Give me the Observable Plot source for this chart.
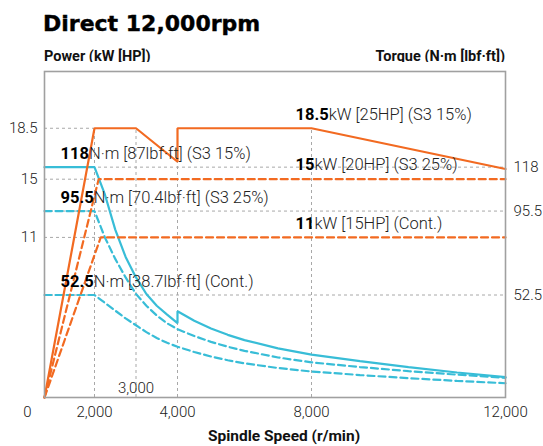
<!DOCTYPE html>
<html><head><meta charset="utf-8">
<script src="https://cdn.jsdelivr.net/npm/d3@7"></script>
<script src="https://cdn.jsdelivr.net/npm/@observablehq/plot@0.6"></script>
<style>
body{margin:0;background:#fff;}
#wrap{position:relative;width:543px;height:446px;font-family:Roboto,"Noto Sans",sans-serif;color:#111;overflow:hidden;}
.t{position:absolute;white-space:nowrap;line-height:1;}
#title{left:43px;top:13px;font-family:"DejaVu Sans",sans-serif;font-size:22px;font-weight:700;color:#000;-webkit-text-stroke:0.4px #000;}
#pl{left:44px;top:50px;font-size:14.5px;font-weight:700;}
#tl{right:38px;top:50px;font-size:14.5px;font-weight:700;}
#xl{left:284px;transform:translateX(-50%);top:429px;font-size:15.5px;font-weight:700;}
#chart{position:absolute;left:0;top:62px;}
</style></head>
<body>
<div id="wrap">
  <div class="t" id="title">Direct 12,000rpm</div>
  <div class="t" id="pl">Power (kW [HP])</div>
  <div class="t" id="tl">Torque (N·m [lbf·ft])</div>
  <div id="chart"></div>
  <div class="t" id="xl">Spindle Speed (r/min)</div>
</div>
<script>
// ---- data ----
const xBreaks = [0, 2000, 4000, 8000, 12000];
const xTicks = [2000, 4000, 8000, 12000];
const xInnerTick = [3000];
const powerTicks = [11, 15, 18.5];
const torqueTicks = [52.5, 95.5, 118];

// Power (kW)
const rpmPowerS3_15 = [0, 2000, 3000, 4000, 4000, 8000, 12000];
const powerS3_15    = [0, 18.5, 18.5, 16.2, 18.5, 18.5, 15.7];
const rpmPowerS3_25 = [0, 2100, 12000];
const powerS3_25    = [0, 15, 15];
const rpmPowerCont  = [0, 2150, 12000];
const powerCont     = [0, 11, 11];

// Torque (N·m)
const rpmTorqueS3_15 = [0, 2000, 2250, 2500, 2750, 3000, 3250, 3500, 3750, 4000, 4000, 4500, 5000, 5500, 6000, 7000, 8000, 9000, 10000, 11000, 12000];
const torqueS3_15    = [118, 118, 104, 86, 72, 61.5, 53, 47, 42.5, 38.1, 44.2, 39.3, 35.3, 32.1, 29.4, 25.2, 22.0, 18.6, 15.6, 12.8, 10.4];
const rpmTorqueS3_25 = [0, 2000, 2250, 2500, 2750, 3000, 3250, 3500, 3750, 4000, 4500, 5000, 5500, 6000, 7000, 8000, 9000, 10000, 11000, 12000];
const torqueS3_25    = [95.5, 95.5, 82, 71, 61.5, 53, 47, 42, 38, 35, 31.5, 28.5, 26.0, 23.9, 20.5, 18.0, 15.6, 13.5, 11.7, 10.1];
const rpmTorqueCont  = [0, 2000, 2250, 2500, 2750, 3000, 3250, 3500, 3750, 4000, 4500, 5000, 5500, 6000, 7000, 8000, 9000, 10000, 11000, 12000];
const torqueCont     = [52.5, 52.5, 48.5, 44.5, 40.5, 37, 33.5, 30.5, 28, 26, 23.3, 21, 19.1, 17.5, 15.1, 13.3, 11.5, 9.9, 8.5, 7.3];

// Annotations
const powerLabelValues = [18.5, 15, 11];
const powerLabelRest = ["kW [25HP] (S3 15%)", "kW [20HP] (S3 25%)", "kW [15HP] (Cont.)"];
const torqueLabelValues = [118, 95.5, 52.5];
const torqueLabelRest = ["N·m [87lbf·ft] (S3 15%)", "N·m [70.4lbf·ft] (S3 25%)", "N·m [38.7lbf·ft] (Cont.)"];

// ---- chart ----
const ORANGE = "#f26a21", CYAN = "#38bdd7", GRID = "#a8a8a8";
const POWER_MAX = 22.4, TORQUE_MAX = 167;
const toY = t => t * POWER_MAX / TORQUE_MAX;
const pts = (xs, ys) => xs.map((x, i) => ({x, y: ys[i]}));
// the drawing's speed axis is piecewise linear between its labelled breaks
const xWarp = d3.scaleLinear().domain(xBreaks).range([0, 50, 133, 267, 461]);

const powerGrid = [
  {y: 11, x2: rpmPowerCont[1]},
  {y: 15, x2: rpmPowerS3_25[1]},
  {y: 18.5, x2: rpmPowerS3_15[1]}
];
const vGrid = [2000, 3000, 4000, 8000].map(r => ({
  x: r,
  y2: d3.min(rpmPowerS3_15.map((x, i) => x === r ? powerS3_15[i] : Infinity))
}));

const lineOpt = {x: "x", y: "y", strokeWidth: 2.2, strokeLinejoin: "miter"};
const dash = "7,4";

const plot = Plot.plot({
  width: 543, height: 384,
  marginTop: 9, marginBottom: 49, marginLeft: 44, marginRight: 38,
  style: {fontFamily: "Roboto, 'Noto Sans', sans-serif", background: "white", overflow: "visible"},
  x: {transform: d => xWarp(d), domain: [xWarp(0), xWarp(12000)], axis: null},
  y: {domain: [0, POWER_MAX], axis: null},
  marks: [
    Plot.ruleY(torqueTicks, {y: toY, stroke: GRID, strokeDasharray: "3,3", strokeWidth: 1}),
    Plot.ruleY(powerGrid, {y: "y", x1: 0, x2: "x2", stroke: GRID, strokeDasharray: "3,3", strokeWidth: 1}),
    Plot.ruleX(vGrid, {x: "x", y1: 0, y2: "y2", stroke: GRID, strokeDasharray: "3,3", strokeWidth: 1}),
    Plot.line(pts(rpmTorqueCont, torqueCont.map(toY)), {...lineOpt, stroke: CYAN, strokeDasharray: dash}),
    Plot.line(pts(rpmTorqueS3_25, torqueS3_25.map(toY)), {...lineOpt, stroke: CYAN, strokeDasharray: dash}),
    Plot.line(pts(rpmTorqueS3_15, torqueS3_15.map(toY)), {...lineOpt, stroke: CYAN}),
    Plot.line(pts(rpmPowerCont, powerCont), {...lineOpt, stroke: ORANGE, strokeDasharray: dash}),
    Plot.line(pts(rpmPowerS3_25, powerS3_25), {...lineOpt, stroke: ORANGE, strokeDasharray: dash}),
    Plot.line(pts(rpmPowerS3_15, powerS3_15), {...lineOpt, stroke: ORANGE}),
    Plot.frame({stroke: "#a0a0a0", strokeWidth: 1.6}),
    Plot.axisX(xTicks, {tickSize: 0, tickPadding: 9, tickFormat: d3.format(","), fontSize: 15, fontWeight: 300, fill: "#222"}),
    Plot.text([0], {x: d => d, text: d => String(d), frameAnchor: "bottom", lineAnchor: "top", dy: 9, dx: -17, fontSize: 15, fontWeight: 300, fill: "#222"}),
    Plot.text(xInnerTick, {x: d => d, text: d3.format(","), frameAnchor: "bottom", lineAnchor: "bottom", dy: -5, fontSize: 15, fontWeight: 300, fill: "#222"}),
    Plot.axisY(powerTicks, {anchor: "left", tickSize: 0, tickPadding: 7, tickFormat: d => String(d), fontSize: 15, fontWeight: 300, fill: "#222"}),
    Plot.axisY(torqueTicks.map(toY), {anchor: "right", tickSize: 0, tickPadding: 8,
      tickFormat: d => String(torqueTicks.find(t => Math.abs(toY(t) - d) < 1e-9)), fontSize: 15, fontWeight: 300, fill: "#222"}),
    Plot.text(torqueLabelValues, {y: toY, text: (d, i) => String(d) + torqueLabelRest[i], frameAnchor: "left", dx: 16, dy: -13,
      textAnchor: "start", fontSize: 16.5, fontWeight: 300, fill: "#222"}),
    Plot.text(powerLabelValues, {x: 8000, y: d => d, text: (d, i) => String(d) + powerLabelRest[i], dx: -16, dy: -14,
      textAnchor: "start", fontSize: 16.5, fontWeight: 300, fill: "#222"})
  ]
});

// bold the leading value in each annotation
const NS = "http://www.w3.org/2000/svg";
function boldify(values, rests) {
  const full = values.map((v, i) => String(v) + rests[i]);
  plot.querySelectorAll("text").forEach(el => {
    const i = full.indexOf(el.textContent);
    if (i < 0) return;
    el.textContent = "";
    const b = document.createElementNS(NS, "tspan");
    b.setAttribute("font-weight", "700");
    b.setAttribute("fill", "#000");
    b.textContent = String(values[i]);
    const r = document.createElementNS(NS, "tspan");
    r.textContent = rests[i];
    el.append(b, r);
  });
}
boldify(torqueLabelValues, torqueLabelRest);
boldify(powerLabelValues, powerLabelRest);

document.getElementById("chart").append(plot);
</script>
</body></html>
